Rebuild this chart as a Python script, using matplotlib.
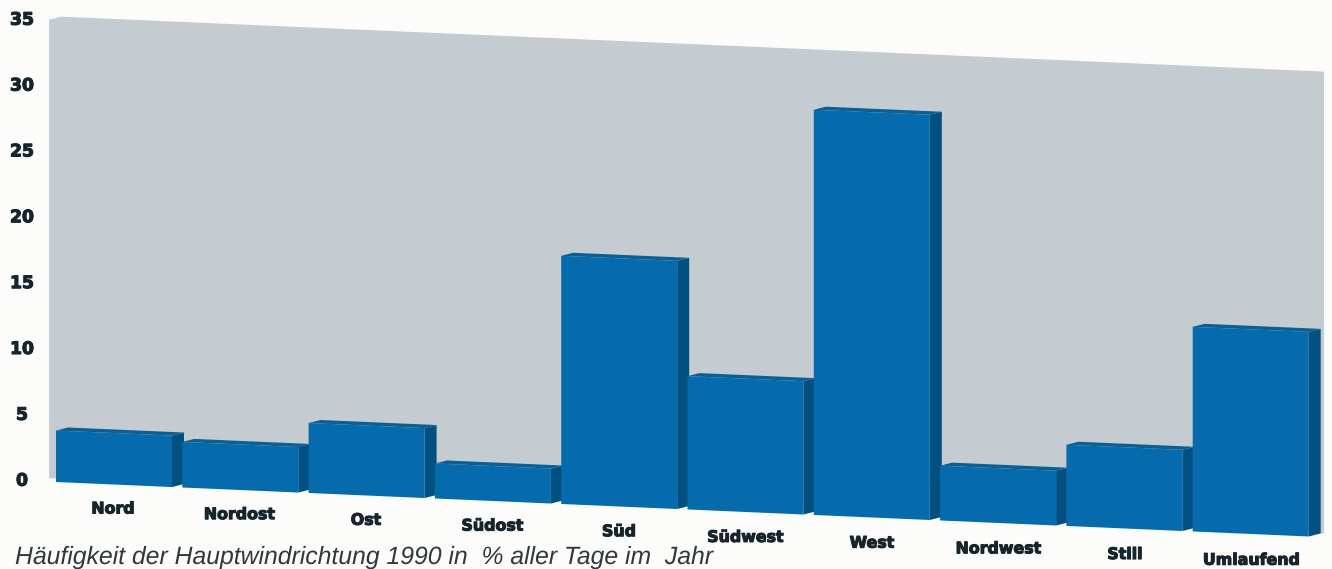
import matplotlib
matplotlib.use('Agg')
import matplotlib.pyplot as plt
from matplotlib.transforms import Affine2D
import matplotlib.patheffects as pe

plt.rcParams['text.hinting'] = 'no_hinting'

directions = ['Nord', 'Nordost', 'Ost', 'Südost', 'Süd', 'Südwest', 'West', 'Nordwest', 'Still', 'Umlaufend']
share = [3.9, 3.45, 5.3, 2.65, 18.8, 10.1, 30.7, 4.15, 6.15, 15.5]
y_ticks = [0, 5, 10, 15, 20, 25, 30, 35]
caption = 'Häufigkeit der Hauptwindrichtung 1990 in  % aller Tage im  Jahr'

wall_color = '#c5ccd1'
front_color = '#056bac'
side_color = '#02507f'
top_color = '#0a5f94'
text_color = '#16252d'

fig = plt.figure(figsize=(13.32, 5.69), dpi=100, facecolor='#fcfcfb')
ax = fig.add_axes([0, 0, 1, 1])
ax.set_xlim(0, 1332)
ax.set_ylim(569, 0)
ax.axis('off')

# the slanted look of the scan: category/value -> pixel, floor falls to the right
pitch = 126.3
unit = 13.2
slant = 0.0435
x0, y0 = 56, 482
skew = Affine2D.from_values(pitch, slant * pitch, 0, -unit, x0, y0) + ax.transData

bar_w = 116 / pitch
depth_x = 12 / pitch
depth_y = 0.27

# back wall with the small cut corner top left
wall_l, wall_r = -0.055, 10.04
ax.fill([wall_l, wall_l, wall_l + depth_x, wall_r, wall_r],
        [0.27, 35, 35.27, 35.27, 0.27],
        color=wall_color, lw=0, transform=skew, zorder=1)

for i, v in enumerate(share):
    l, r = i, i + bar_w
    ax.fill([r, r + depth_x, r + depth_x, r], [0, depth_y, v + depth_y, v],
            color=side_color, lw=0, transform=skew, zorder=2 + i)
    ax.fill([l, l + depth_x, r + depth_x, r], [v, v + depth_y, v + depth_y, v],
            color=top_color, lw=0, transform=skew, zorder=2 + i)
    ax.fill([l, r, r, l], [0, 0, v, v],
            color=front_color, lw=0, transform=skew, zorder=2 + i)

bold = dict(family='DejaVu Sans', weight='bold', color=text_color,
            ha='center', va='center',
            path_effects=[pe.withStroke(linewidth=0.8, foreground=text_color)])

for t in y_ticks:
    ax.text(22, 481 - t * 13.17, str(t), fontsize=12.4, **bold)

for i, name in enumerate(directions):
    ax.text(113 + i * 126.5, 509 + i * 5.7, name, fontsize=11.4, **bold)

ax.text(15, 563.5, caption, fontsize=17.8, style='italic', family=['Liberation Sans', 'DejaVu Sans'],
        color='#30383c', ha='left', va='baseline')

fig.savefig('out.png', dpi=100, facecolor=fig.get_facecolor())
